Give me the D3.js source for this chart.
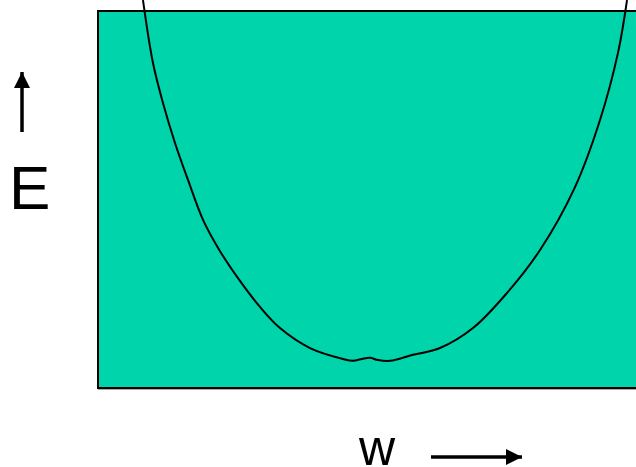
<!DOCTYPE html>
<html lang="en">
<head>
  <meta charset="UTF-8">
  <title>Energy vs w</title>
  <script src="https://d3js.org/d3.v7.min.js"></script>
  <style>
    body { margin: 0; background: #fff; }
    .curve { fill: none; stroke: #000; stroke-width: 2; }
    .label { font-family: "Liberation Sans", Arial, sans-serif; fill: #000; }
  </style>
</head>
<body>
  <svg width="636" height="467"></svg>
  <script>
    // curve, w and E in 0..100 units of the box
    const wValues = [8.36, 10.22, 12.08, 14.31, 16.73, 19.52, 22.68, 26.39, 30.11, 33.83, 39.41, 45.54, 47.40, 49.07, 50.56, 52.04, 54.28, 58.55, 63.57, 69.70, 76.02, 82.16, 88.66, 93.31, 96.65, 98.33];
    const eValues = [102.9, 86.2, 75.6, 65.0, 55.2, 44.6, 36.3, 28.4, 21.5, 15.9, 10.6, 7.7, 7.2, 7.7, 8.0, 7.4, 7.2, 8.8, 10.6, 15.9, 25.2, 36.6, 53.3, 71.1, 88.9, 102.9];
    const xLabel = "w";
    const yLabel = "E";

    const svg = d3.select("svg"),
        box = {left: 98, top: 11, right: 640, bottom: 388};

    const x = d3.scaleLinear().domain([0, 100]).range([box.left, 636]);
    const y = d3.scaleLinear().domain([0, 100]).range([box.bottom, box.top]);

    const defs = svg.append("defs");
    defs.append("marker")
        .attr("id", "head")
        .attr("viewBox", "0 0 10 10")
        .attr("refX", 10).attr("refY", 5)
        .attr("markerUnits", "userSpaceOnUse")
        .attr("markerWidth", 16).attr("markerHeight", 16)
        .attr("orient", "auto")
      .append("path")
        .attr("d", "M0,0L10,5L0,10Z")
        .attr("fill", "#000");

    // soft shadow under the box
    svg.append("rect")
        .attr("x", box.left).attr("y", box.bottom)
        .attr("width", box.right - box.left).attr("height", 2)
        .attr("fill", "#aaa");

    svg.append("rect")
        .attr("x", box.left).attr("y", box.top)
        .attr("width", box.right - box.left).attr("height", box.bottom - box.top)
        .attr("fill", "#00d4ab")
        .attr("stroke", "#000")
        .attr("stroke-width", 2);

    const data = wValues.map((w, i) => ({w: w, e: eValues[i]}));

    const line = d3.line()
        .x(d => x(d.w))
        .y(d => y(d.e))
        .curve(d3.curveCatmullRom.alpha(0.5));

    svg.append("path")
        .datum(data)
        .attr("class", "curve")
        .attr("d", line);

    // E label with up arrow
    svg.append("line")
        .attr("x1", 22).attr("y1", 132)
        .attr("x2", 22).attr("y2", 72)
        .attr("stroke", "#000").attr("stroke-width", 3.5)
        .attr("marker-end", "url(#head)");

    svg.append("text")
        .attr("class", "label")
        .attr("x", 9).attr("y", 209)
        .attr("font-size", 62)
        .text(yLabel);

    // w label with right arrow
    svg.append("text")
        .attr("class", "label")
        .attr("x", 359).attr("y", 465)
        .attr("font-size", 50)
        .text(xLabel);

    svg.append("line")
        .attr("x1", 431).attr("y1", 457)
        .attr("x2", 522).attr("y2", 457)
        .attr("stroke", "#000").attr("stroke-width", 3.5)
        .attr("marker-end", "url(#head)");
  </script>
</body>
</html>
